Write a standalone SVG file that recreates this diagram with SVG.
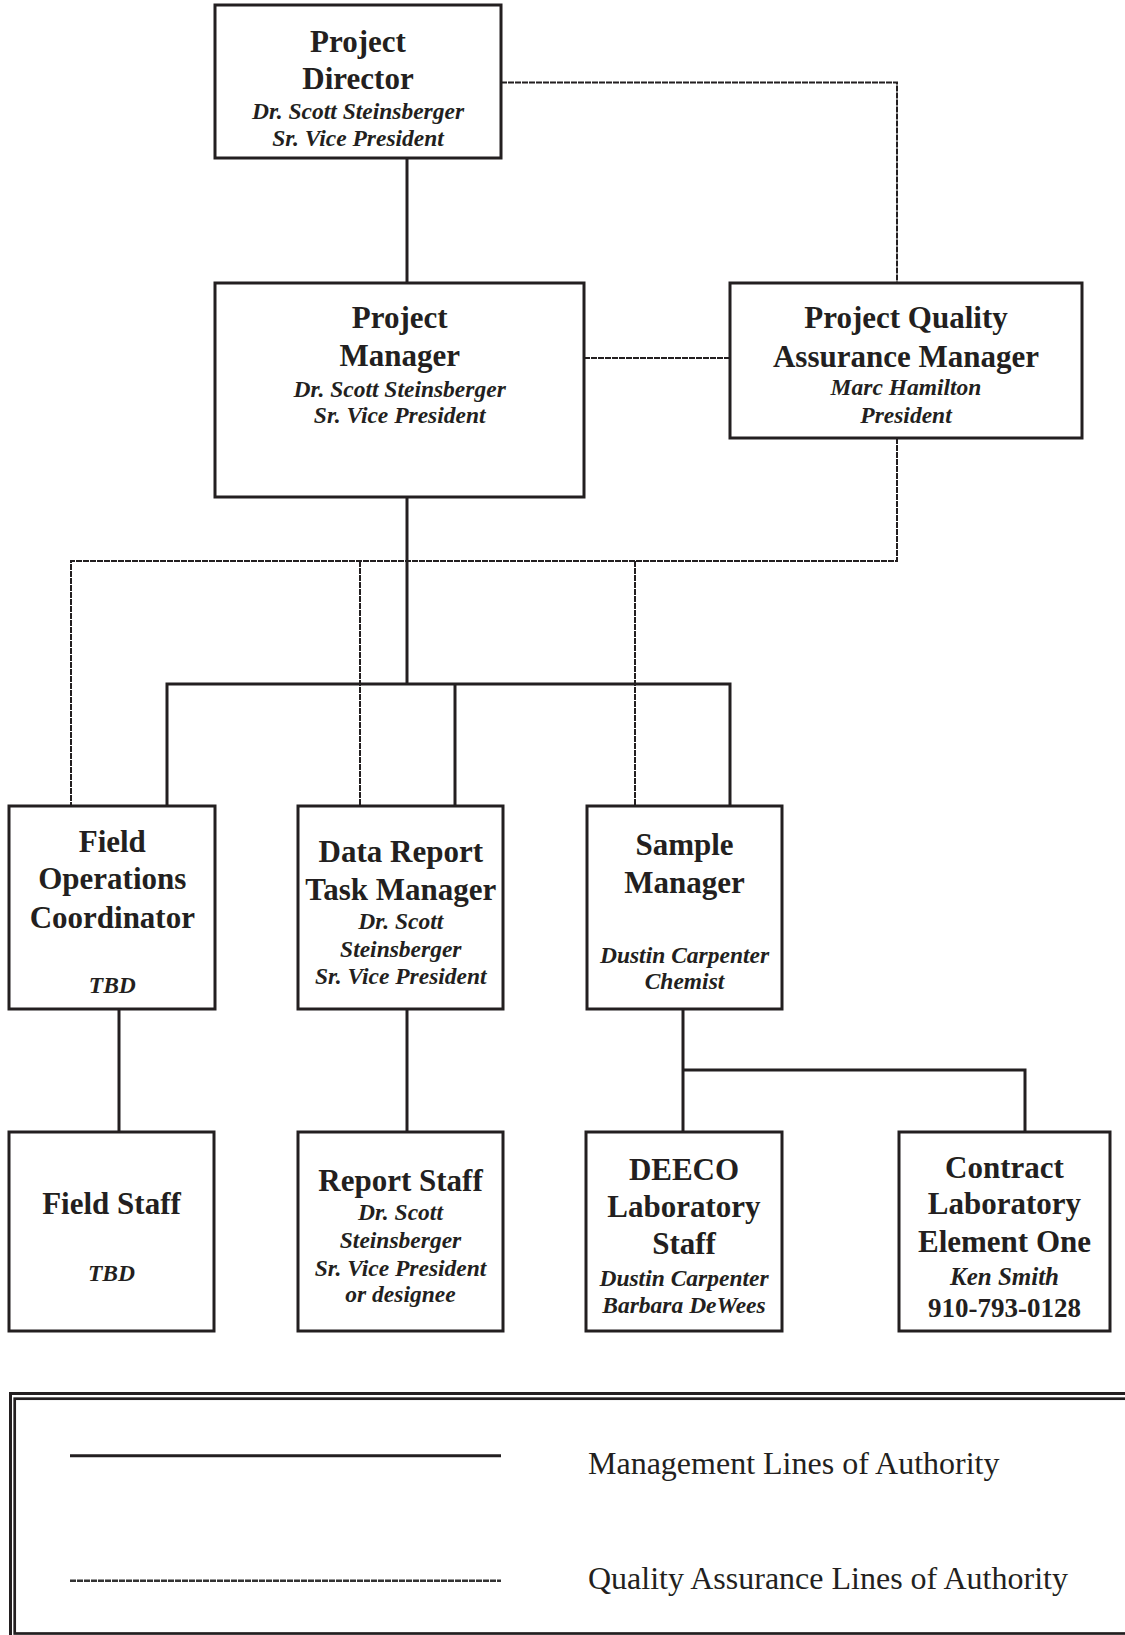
<svg xmlns="http://www.w3.org/2000/svg" width="1125" height="1635" viewBox="0 0 1125 1635">
<style>
.box{fill:#fff;stroke:#231f20;stroke-width:3}
.t{font-family:"Liberation Serif","Times New Roman",serif;font-weight:bold;font-size:31px;fill:#231f20;text-anchor:middle}
.n{font-family:"Liberation Serif","Times New Roman",serif;font-weight:bold;font-style:italic;font-size:23.5px;fill:#231f20;text-anchor:middle}
.l{font-family:"Liberation Serif","Times New Roman",serif;font-size:32px;fill:#231f20}
.solid{fill:none;stroke:#231f20;stroke-width:3}
.dash{fill:none;stroke:#231f20;stroke-width:2;stroke-dasharray:6 1}
</style>
<rect width="1125" height="1635" fill="#fff"/>
<g id="connectors">
  <path class="solid" d="M407,158V283"/>
  <path class="solid" d="M407,497V684"/>
  <path class="solid" d="M167,806V684H730V806"/>
  <path class="solid" d="M455,684V806"/>
  <path class="solid" d="M119,1009V1132"/>
  <path class="solid" d="M407,1009V1132"/>
  <path class="solid" d="M683,1009V1132"/>
  <path class="solid" d="M683,1070H1025V1132"/>
  <path class="dash" d="M501,82.5H897V283"/>
  <path class="dash" d="M584,358H730"/>
  <path class="dash" d="M897,438V561H71V806"/>
  <path class="dash" d="M360,561V806"/>
  <path class="dash" d="M635,561V806"/>
</g>
<g id="project-director">
  <rect class="box" x="215" y="5" width="286" height="153"/>
  <text class="t" x="358" y="52">Project</text>
  <text class="t" x="358" y="89">Director</text>
  <text class="n" x="358" y="118.5">Dr. Scott Steinsberger</text>
  <text class="n" x="358" y="145.7">Sr. Vice President</text>
</g>
<g id="project-manager">
  <rect class="box" x="215" y="283" width="369" height="214"/>
  <text class="t" x="399.7" y="328.3">Project</text>
  <text class="t" x="399.7" y="366">Manager</text>
  <text class="n" x="399.7" y="396.7">Dr. Scott Steinsberger</text>
  <text class="n" x="399.7" y="423.3">Sr. Vice President</text>
</g>
<g id="pqa-manager">
  <rect class="box" x="730" y="283" width="352" height="155"/>
  <text class="t" x="906" y="328">Project Quality</text>
  <text class="t" x="906" y="366.7">Assurance Manager</text>
  <text class="n" x="906" y="395">Marc Hamilton</text>
  <text class="n" x="906" y="422.7">President</text>
</g>
<g id="field-operations-coordinator">
  <rect class="box" x="9" y="806" width="206" height="203"/>
  <text class="t" x="112.3" y="852.3">Field</text>
  <text class="t" x="112.3" y="889.3">Operations</text>
  <text class="t" x="112.3" y="927.7">Coordinator</text>
  <text class="n" x="112.3" y="993.3">TBD</text>
</g>
<g id="data-report-task-manager">
  <rect class="box" x="298" y="806" width="205" height="203"/>
  <text class="t" x="400.8" y="862.3">Data Report</text>
  <text class="t" x="400.8" y="900">Task Manager</text>
  <text class="n" x="400.8" y="929.3">Dr. Scott</text>
  <text class="n" x="400.8" y="956.7">Steinsberger</text>
  <text class="n" x="400.8" y="984">Sr. Vice President</text>
</g>
<g id="sample-manager">
  <rect class="box" x="587" y="806" width="195" height="203"/>
  <text class="t" x="684.5" y="855">Sample</text>
  <text class="t" x="684.5" y="893.3">Manager</text>
  <text class="n" x="684.5" y="963.3">Dustin Carpenter</text>
  <text class="n" x="684.5" y="989.3">Chemist</text>
</g>
<g id="field-staff">
  <rect class="box" x="9" y="1132" width="205" height="199"/>
  <text class="t" x="111.5" y="1214">Field Staff</text>
  <text class="n" x="111.5" y="1280.8">TBD</text>
</g>
<g id="report-staff">
  <rect class="box" x="298" y="1132" width="205" height="199"/>
  <text class="t" x="400.5" y="1190.6">Report Staff</text>
  <text class="n" x="400.5" y="1220">Dr. Scott</text>
  <text class="n" x="400.5" y="1247.5">Steinsberger</text>
  <text class="n" x="400.5" y="1275.7">Sr. Vice President</text>
  <text class="n" x="400.5" y="1302.4">or designee</text>
</g>
<g id="deeco-laboratory-staff">
  <rect class="box" x="586" y="1132" width="196" height="199"/>
  <text class="t" x="684" y="1180">DEECO</text>
  <text class="t" x="684" y="1216.7">Laboratory</text>
  <text class="t" x="684" y="1254">Staff</text>
  <text class="n" x="684" y="1285.7">Dustin Carpenter</text>
  <text class="n" x="684" y="1313.3">Barbara DeWees</text>
</g>
<g id="contract-laboratory">
  <rect class="box" x="899" y="1132" width="211" height="199"/>
  <text class="t" x="1004.5" y="1177.7">Contract</text>
  <text class="t" x="1004.5" y="1214.3">Laboratory</text>
  <text class="t" x="1004.5" y="1251.7">Element One</text>
  <text class="n" x="1004.5" y="1285" style="font-size:25px">Ken Smith</text>
  <text class="t" x="1004.5" y="1316.7" style="font-size:27px">910-793-0128</text>
</g>
<g id="legend">
  <rect x="10.5" y="1393.5" width="1200" height="300" fill="none" stroke="#231f20" stroke-width="3"/>
  <rect x="14.7" y="1398.7" width="1200" height="234.8" fill="none" stroke="#231f20" stroke-width="2.7"/>
  <path d="M70,1455.7H501" fill="none" stroke="#231f20" stroke-width="3"/>
  <path d="M70,1580.7H501" fill="none" stroke="#333" stroke-width="2.5" stroke-dasharray="6 1"/>
  <text class="l" x="588" y="1474">Management Lines of Authority</text>
  <text class="l" x="588" y="1588.6">Quality Assurance Lines of Authority</text>
</g>
</svg>
